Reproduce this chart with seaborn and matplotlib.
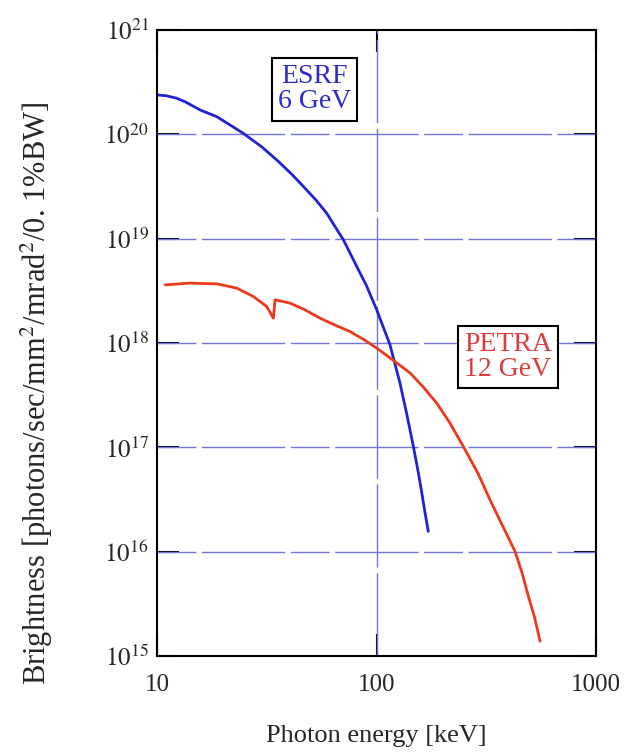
import numpy as np
import pandas as pd
import matplotlib
matplotlib.use("Agg")
import matplotlib.pyplot as plt
from matplotlib.ticker import FixedLocator, NullLocator
import seaborn as sns

# ESRF 6 GeV (blue): photon energy [keV], log10(brightness)
esrf_energy = [10.1, 11.0, 12.3, 13.5, 15.7, 18.7, 21.5, 24.7, 30.0, 35.1, 41.0, 46.5, 53.0,
               59.3, 65.9, 70.6, 81.3, 90.0, 100.2, 115.2, 127.9, 137.0, 147.2, 155.0,
               160.6, 166.0, 172.2]
esrf_log_brightness = [20.377, 20.37, 20.346, 20.31, 20.234, 20.17, 20.09, 20.01, 19.88,
                       19.755, 19.62, 19.499, 19.37, 19.244, 19.09, 18.99, 18.733, 18.55,
                       18.318, 17.983, 17.616, 17.33, 17.009, 16.76, 16.57, 16.385, 16.194]

# PETRA 12 GeV (red)
petra_energy = [10.9, 14.1, 18.7, 23.1, 27.5, 31.6, 33.9, 34.5, 40.4, 47.0, 55.3, 65.0,
                75.7, 88.0, 100.2, 120.0, 142.3, 163.0, 188.0, 215.0, 248.5, 290.0, 328.7,
                365.0, 427.6, 460.0, 492.0, 525.0, 556.0]
petra_log_brightness = [18.557, 18.574, 18.567, 18.526, 18.445, 18.35, 18.238, 18.414,
                        18.382, 18.32, 18.238, 18.17, 18.11, 18.03, 17.951, 17.83, 17.712,
                        17.58, 17.424, 17.24, 17.009, 16.75, 16.498, 16.30, 16.003, 15.80,
                        15.572, 15.37, 15.141]

y_ticks = [1e15, 1e16, 1e17, 1e18, 1e19, 1e20, 1e21]
y_tick_labels = [r"$10^{15}$", r"$10^{16}$", r"$10^{17}$", r"$10^{18}$", r"$10^{19}$",
                 r"$10^{20}$", r"$10^{21}$"]
x_ticks = [10, 100, 1000]
x_tick_labels = ["10", "100", "1000"]

sns.set_style("white")
plt.rcParams["font.family"] = ["Liberation Serif", "DejaVu Serif"]
plt.rcParams["mathtext.fontset"] = "stix"

fig = plt.figure(figsize=(6.25, 7.54), dpi=100)
ax = fig.add_axes([0.2512, 0.1300, 0.7024, 0.8302])

df_e = pd.DataFrame({"E": esrf_energy, "B": 10.0 ** np.array(esrf_log_brightness)})
df_p = pd.DataFrame({"E": petra_energy, "B": 10.0 ** np.array(petra_log_brightness)})

ax.set_xscale("log")
ax.set_yscale("log")

grid_color = "#7474e0"
for yt in y_ticks[1:-1]:
    ax.axhline(yt, color=grid_color, lw=1.0, ls=(0, (28, 4, 60, 4)), zorder=1)
ax.axvline(100, color=grid_color, lw=1.0, ls=(0, (60, 4)), zorder=1)

sns.lineplot(data=df_e, x="E", y="B", ax=ax, color="#2222d4", lw=2.0, zorder=3,
             estimator=None, sort=False)
sns.lineplot(data=df_p, x="E", y="B", ax=ax, color="#ea3a1c", lw=2.0, zorder=3,
             estimator=None, sort=False)

ax.set_xlim(10, 1000)
ax.set_ylim(1e15, 1e21)

ax.yaxis.set_major_locator(FixedLocator(y_ticks))
ax.set_yticklabels(y_tick_labels)
ax.yaxis.set_minor_locator(NullLocator())
ax.xaxis.set_major_locator(FixedLocator(x_ticks))
ax.set_xticklabels(x_tick_labels)
ax.xaxis.set_minor_locator(NullLocator())

ax.tick_params(axis="both", which="major", direction="in", length=16, width=1.5,
               color="black", labelsize=18, left=True, right=True, top=True, bottom=True)
ax.tick_params(axis="y", pad=6)
ax.tick_params(axis="x", pad=13)

for sp in ax.spines.values():
    sp.set_color("black")
    sp.set_linewidth(1.5)
    sp.set_zorder(5)

ax.set_xlabel("Photon energy [keV]", fontsize=19, labelpad=21)
ax.set_ylabel(r"Brightness [photons/sec/mm$^2$/mrad$^2$/0. 1%BW]", fontsize=22)
ax.yaxis.set_label_coords(-0.232, 0.42)

ax.text(0.3588, 0.905, "ESRF\n6 GeV", transform=ax.transAxes, color="#2a2ad0",
        fontsize=20, ha="center", va="center", linespacing=1.0, zorder=6,
        bbox=dict(boxstyle="square,pad=0.22", fc="white", ec="black", lw=1.5))
ax.text(0.7995, 0.4776, "PETRA\n12 GeV", transform=ax.transAxes, color="#dc3c3c",
        fontsize=20, ha="center", va="center", linespacing=1.0, zorder=6,
        bbox=dict(boxstyle="square,pad=0.22", fc="white", ec="black", lw=1.5))

fig.savefig("out.png", dpi=100)
